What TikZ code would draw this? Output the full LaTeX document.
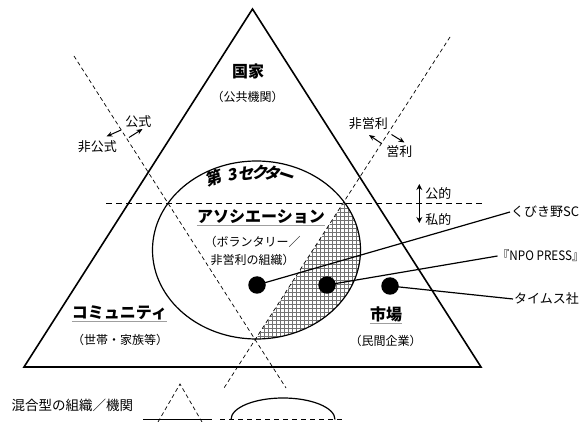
\documentclass[tikz,border=0pt]{standalone}
\usepackage{fontspec}
\setmainfont{Noto Sans CJK JP}
\newfontfamily\slantfont[FakeSlant=0.2]{Noto Sans CJK JP}
\newfontfamily\condfont[FakeStretch=0.9]{Noto Sans CJK JP}
\usetikzlibrary{arrows.meta}
\begin{document}
\begin{tikzpicture}[x=1pt,y=-1pt,
  tri/.style={line width=1.6pt, line join=miter},
  dsh/.style={line width=0.7pt, dash pattern=on 4pt off 3pt},
  hdsh/.style={line width=0.9pt, dash pattern=on 6pt off 4pt},
  lbl/.style={inner sep=0pt, font=\fontsize{13}{15}\selectfont},
  sub/.style={inner sep=0pt, font=\fontsize{12}{18}\selectfont},
  big/.style={inner sep=0pt, font=\fontsize{16}{18}\selectfont\bfseries},
  sect/.style={inner sep=0pt, font=\fontsize{16}{18}\selectfont\slantfont\bfseries},
  uline/.style={line width=1.4pt, gray!75},
  lead/.style={line width=1.2pt},
  arr/.style={line width=1pt, -{Stealth[length=6pt,width=5pt]}},
  darr/.style={line width=1.5pt, {Stealth[length=6pt,width=6pt]}-{Stealth[length=6pt,width=6pt]}},
  dot/.style={circle, fill=black, minimum size=17.5pt, inner sep=0pt},
]
\useasboundingbox (0,0) rectangle (584,422);

% hatched mixed region
\begin{scope}
  \clip (256.5,250) ellipse [x radius=104pt, y radius=89pt];
  \clip (343.4,203) -- (226,386) -- (480,386) -- (480,203) -- cycle;
  \draw[gray!90!black, line width=0.4pt, step=4pt] (200,200) grid (380,350);
\end{scope}

% ellipse (third sector)
\draw[line width=1.2pt] (256.5,250) ellipse [x radius=104pt, y radius=89pt];

% dividing dashed lines
\draw[dsh] (74,56) -- (286,388);
\draw[dsh] (450,37) -- (224,388);
\draw[hdsh] (106,203) -- (482,203);

% triangle
\draw[tri] (24,367) -- (481,367) -- (252.5,9) -- cycle;

% top label
\node[big] (kokka) at (248,71) {国家};
\node[sub] (kokkasub) at (247.5,97) {（公共機関）};

% formal / informal
\node[lbl] (koshiki) at (138.3,121.7) {公式};
\node[lbl] (hikoshiki) at (97.3,146.7) {非公式};
\coordinate (a1s) at (121,130); \coordinate (a1e) at (106.5,136.5);
\coordinate (a2s) at (129,137.5); \coordinate (a2e) at (142.5,129);
\draw[arr] (a1s) -- (a1e);
\draw[arr] (a2s) -- (a2e);

% nonprofit / profit
\node[lbl] (hieiri) at (368.3,124) {非営利};
\node[lbl] (eiri) at (399.3,151.7) {営利};
\coordinate (b1s) at (381.5,143.5); \coordinate (b1e) at (369,135);
\coordinate (b2s) at (391.5,134.5); \coordinate (b2e) at (404.5,142.5);
\draw[arr] (b1s) -- (b1e);
\draw[arr] (b2s) -- (b2e);

% public / private
\node[lbl] (koteki) at (438.3,194) {公的};
\node[lbl] (shiteki) at (438.3,220) {私的};
\coordinate (c1) at (419.3,184);
\coordinate (c2) at (419.3,223);
\draw[darr] (c1) -- (c2);

% third sector title along arc
\node[sect, rotate=18] (t1) at (213.3,178.3) {第};
\node[sect, rotate=12] (t2) at (231.7,175) {3};
\node[sect, rotate=6] (t3) at (246,173.3) {セ};
\node[sect, rotate=0] (t4) at (259.3,172.7) {ク};
\node[sect, rotate=-6] (t5) at (271.7,173.3) {タ};
\node[sect, rotate=-18] (t6) at (285,177.5) {ー};

% association
\node[big] (aso) at (261,217) {アソシエーション};
\draw[uline] ([yshift=-2.5pt]aso.base west) -- ([yshift=-2.5pt]aso.base east);
\node[sub, align=center] (asosub) at (252.5,251) {（ボランタリー／\\非営利の組織）};

% community
\node[big] (comm) at (119.5,313) {コミュニティ};
\draw[uline] ([yshift=-3pt]comm.base west) -- ([yshift=-3pt]comm.base east);
\node[sub] (commsub) at (120,340) {（世帯・家族等）};

% market
\node[big] (mkt) at (386,314.5) {市場};
\draw[uline] ([yshift=-3pt]mkt.base west) -- ([yshift=-3pt]mkt.base east);
\node[sub] (mktsub) at (385.5,341) {（民間企業）};

% examples
\node[dot] (d1) at (257,285) {};
\node[dot] (d2) at (327,285) {};
\node[dot] (d3) at (390,286) {};
\node[lbl, anchor=west, inner sep=1pt] (kub) at (510,212) {くびき野SC};
\node[lbl, anchor=east, inner sep=0pt, font=\fontsize{13}{15}\condfont] (npo) at (584,256) {『NPO PRESS』};
\node[lbl, anchor=west, inner sep=1pt] (tim) at (513,299) {タイムス社};
\draw[lead] (d1.center) -- (kub.west);
\draw[lead] (d2.center) -- (npo.west);
\draw[lead] (d3.center) -- (tim.west);

% legend
\node[lbl, font=\fontsize{13.5}{15}\selectfont] (leg) at (72.5,405) {混合型の組織／機関};
\coordinate (l1a) at (143,419.5); \coordinate (l1b) at (212,419.5);
\draw[line width=1.5pt] (l1a) -- (l1b);
\coordinate (ta) at (158,422); \coordinate (tb) at (180,384); \coordinate (tc) at (202,422);
\draw[dsh] (ta) -- (tb) -- (tc);
\coordinate (l2a) at (220,419.5); \coordinate (l2b) at (344,419.5);
\draw[line width=1pt, dash pattern=on 5pt off 4pt] (l2a) -- (l2b);
\draw[line width=1.2pt] (231,419.5) arc[start angle=180, end angle=0, x radius=52pt, y radius=21.5pt];
\end{tikzpicture}
\end{document}
